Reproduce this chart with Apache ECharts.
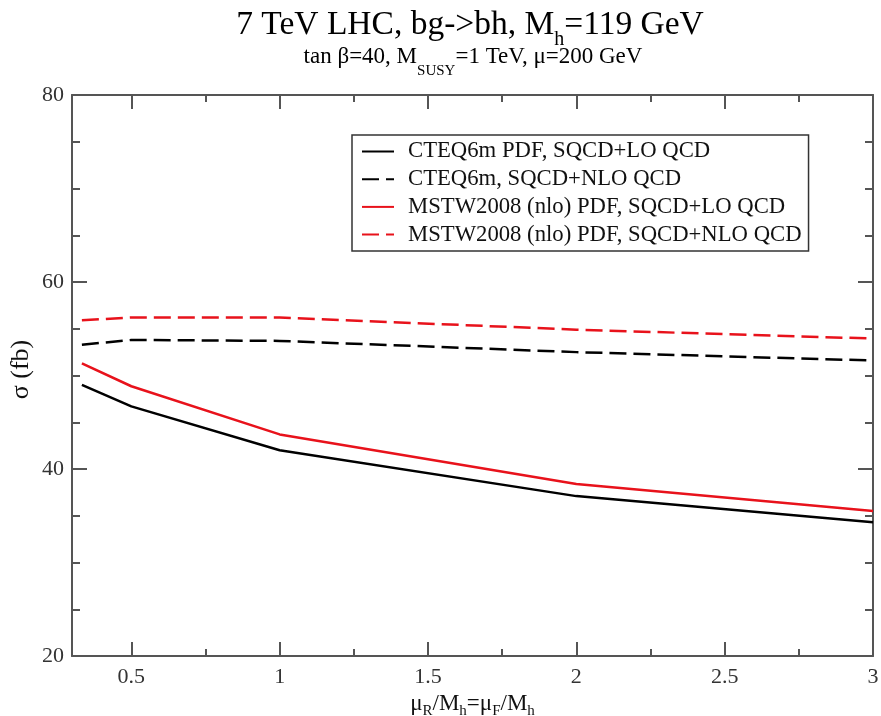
<!DOCTYPE html>
<html>
<head>
<meta charset="utf-8">
<script src="https://cdn.jsdelivr.net/npm/echarts@6/dist/echarts.min.js"></script>
<style>
  html, body { margin: 0; padding: 0; background: #fff; }
  #chart { width: 881px; height: 716px; }
</style>
</head>
<body>
<div id="chart"></div>
<script>
// --- Data ---
const muValues = [1 / 3, 0.5, 1, 2, 3];
const cteqLO = [49.0, 46.7, 42.0, 37.1, 34.3];
const cteqNLO = [53.3, 53.8, 53.7, 52.5, 51.6];
const mstwLO = [51.3, 48.85, 43.7, 38.4, 35.5];
const mstwNLO = [55.9, 56.2, 56.2, 54.9, 53.95];

const seriesNames = [
  "CTEQ6m PDF, SQCD+LO QCD",
  "CTEQ6m, SQCD+NLO QCD",
  "MSTW2008 (nlo) PDF, SQCD+LO QCD",
  "MSTW2008 (nlo) PDF, SQCD+NLO QCD",
];

const xMajorTicks = [0.5, 1, 1.5, 2, 2.5, 3];
const xMinorTicks = [0.75, 1.25, 1.75, 2.25, 2.75];

// --- Style constants ---
const SERIF = "Liberation Serif, Times New Roman, serif";
const AXIS = "#555";
const INK = "#111";
const RED = "#e8121b";
const X_MIN = 0.3, X_MAX = 3;

const pairs = (ys) => muValues.map((x, i) => [x, ys[i]]);

function lineSeries(name, ys, color, dashed) {
  return {
    name,
    type: "line",
    data: pairs(ys),
    symbol: "none",
    lineStyle: { color, width: 2.5, type: dashed ? [17, 7] : "solid" },
    itemStyle: { color },
    z: 3,
  };
}

// x axis built from explicit tick values (min 0.3 is not a multiple of 0.5)
function xAxisPart(position, values, len, showLine, labels) {
  return {
    type: "value",
    position,
    min: X_MIN,
    max: X_MAX,
    axisLine: { show: showLine, onZero: false, lineStyle: { color: AXIS, width: 2 } },
    axisTick: { show: true, inside: true, length: len, customValues: values, lineStyle: { color: AXIS, width: 2 } },
    axisLabel: labels
      ? { show: true, customValues: values, color: "#333", fontFamily: SERIF, fontSize: 22, margin: 10 }
      : { show: false },
    splitLine: { show: false },
  };
}

function yAxisPart(position, labels) {
  return {
    type: "value",
    position,
    min: 20,
    max: 80,
    interval: 20,
    axisLine: { show: true, onZero: false, lineStyle: { color: AXIS, width: 2 } },
    axisTick: { show: true, inside: true, length: 15, lineStyle: { color: AXIS, width: 2 } },
    minorTick: { show: true, splitNumber: 4, length: 8, lineStyle: { color: AXIS, width: 2 } },
    axisLabel: labels
      ? { show: true, color: "#333", fontFamily: SERIF, fontSize: 22, margin: 8 }
      : { show: false },
    splitLine: { show: false },
    minorSplitLine: { show: false },
  };
}

// rich styles for text with subscripts: n = normal, s = subscript.
// the subscript has a short line box pinned to the bottom of the tall line.
function subRich(size, lineH, subSize, subLineH) {
  return {
    n: { fontFamily: SERIF, fontSize: size, color: INK, lineHeight: lineH },
    s: { fontFamily: SERIF, fontSize: subSize, color: INK, lineHeight: subLineH, verticalAlign: "bottom" },
  };
}

const chart = echarts.init(document.getElementById("chart"), null, { renderer: "canvas" });

chart.setOption({
  backgroundColor: "#fff",
  animation: false,
  graphic: [
    {
      type: "text",
      x: 470,
      y: 0,
      style: {
        text: "{n|7 TeV LHC, bg->bh, M}{s|h}{n|=119 GeV}",
        align: "center",
        verticalAlign: "top",
        rich: subRich(33.5, 50, 20, 13),
      },
    },
    {
      type: "text",
      x: 473,
      y: 35,
      style: {
        text: "{n|tan β=40, M}{s|SUSY}{n|=1 TeV, μ=200 GeV}",
        align: "center",
        verticalAlign: "top",
        rich: subRich(23, 44, 15, 8.6),
      },
    },
  ],
  legend: {
    orient: "vertical",
    left: 352,
    top: 135,
    padding: [5, 7, 5, 9],
    itemGap: 4.7,
    itemWidth: 32,
    itemHeight: 20,
    borderColor: "#333",
    borderWidth: 1.5,
    itemStyle: { opacity: 0 },
    textStyle: { fontFamily: SERIF, fontSize: 22.7, color: INK, padding: [0, 0, 0, 9] },
    data: seriesNames,
  },
  grid: { left: 72, right: 8, top: 95, bottom: 60, outerBoundsMode: "none" },
  xAxis: [
    Object.assign(xAxisPart("bottom", xMajorTicks, 14, true, true), {
      name: "{n|μ}{s|R}{n|/M}{s|h}{n|=μ}{s|F}{n|/M}{s|h}",
      nameLocation: "middle",
      nameGap: 33,
      nameMoveOverlap: false,
      nameTextStyle: { rich: subRich(23, 30, 15, 10.6) },
    }),
    xAxisPart("bottom", xMinorTicks, 7, false, false),
    xAxisPart("top", xMajorTicks, 14, true, false),
    xAxisPart("top", xMinorTicks, 7, false, false),
  ],
  yAxis: [
    Object.assign(yAxisPart("left", true), {
      name: "σ (fb)",
      nameLocation: "middle",
      nameGap: 38,
      nameRotate: 90,
      nameMoveOverlap: false,
      nameTextStyle: { fontFamily: SERIF, fontSize: 26, color: INK, padding: [0, 0, 0, 12] },
    }),
    yAxisPart("right", false),
  ],
  series: [
    lineSeries(seriesNames[0], cteqLO, "#000", false),
    lineSeries(seriesNames[1], cteqNLO, "#000", true),
    lineSeries(seriesNames[2], mstwLO, RED, false),
    lineSeries(seriesNames[3], mstwNLO, RED, true),
  ],
});
</script>
</body>
</html>
